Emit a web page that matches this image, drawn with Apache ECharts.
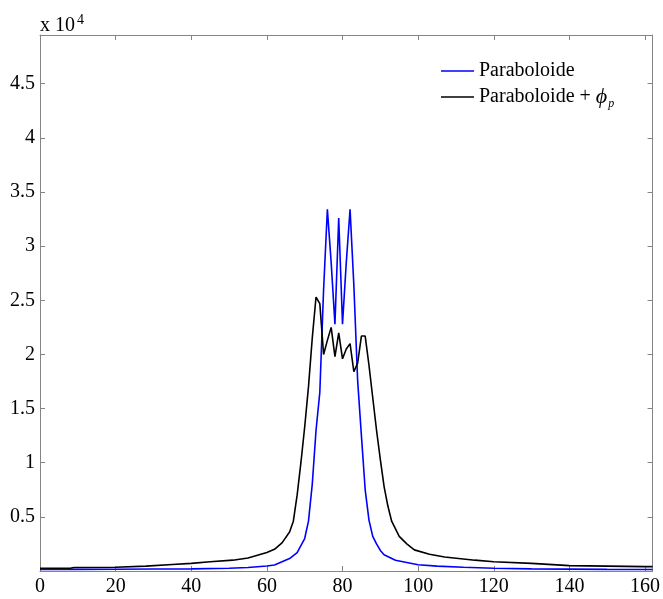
<!DOCTYPE html>
<html>
<head>
<meta charset="utf-8">
<script src="https://cdn.jsdelivr.net/npm/echarts@6/dist/echarts.min.js"></script>
<style>html,body{margin:0;padding:0;background:#fff}#c{width:663px;height:599px}</style>
</head>
<body>
<div id="c"></div>
<script>
var xTicks = [0, 20, 40, 60, 80, 100, 120, 140, 160];
var yTickLabels = ['0.5', '1', '1.5', '2', '2.5', '3', '3.5', '4', '4.5'];

var blueX = [0, 10, 20, 30, 40, 50, 55, 60, 62, 64, 66, 68, 70, 71, 72, 73, 74, 75, 76, 77, 78, 79, 80, 81, 82, 83, 84, 85, 86, 87, 88, 89, 90, 91, 94, 100, 105, 112, 120, 130, 140, 150, 160, 162];
var blueY = [150, 150, 160, 180, 200, 250, 320, 460, 560, 850, 1150, 1700, 3000, 4600, 8000, 13000, 16500, 26000, 33400, 28500, 22800, 32600, 22800, 28500, 33400, 26400, 17600, 12500, 7500, 4700, 3200, 2500, 1900, 1500, 1000, 580, 450, 340, 250, 200, 170, 150, 140, 140];

var blackX = [0, 8, 9, 20, 28, 35, 40, 45, 51, 55, 60, 62, 64, 66, 67, 68, 69, 70, 71, 72, 73, 74, 75, 76, 77, 78, 79, 80, 81, 82, 83, 84, 85, 86, 87, 88, 89, 90, 91, 92, 93, 95, 97, 99, 103, 107, 115, 120, 130, 140, 150, 160, 162];
var blackY = [250, 250, 330, 350, 450, 600, 700, 850, 1000, 1200, 1700, 2000, 2600, 3600, 4600, 7000, 10000, 13300, 17000, 21500, 25300, 24700, 20000, 21300, 22500, 19800, 22000, 19600, 20500, 21000, 18400, 19200, 21700, 21700, 19000, 16000, 13000, 10300, 7800, 6000, 4600, 3200, 2500, 1950, 1550, 1300, 1000, 860, 700, 500, 450, 400, 400];

function zip(a, b) { return a.map(function (v, i) { return [v, b[i]]; }); }

var serif = 'Liberation Serif';
var frame = '#848484';
var chart = echarts.init(document.getElementById('c'), null, { renderer: 'canvas' });

var yFmt = function (v) {
  var k = Math.round(v / 5000) - 1;
  if (Math.abs(v - (k + 1) * 5000) > 1e-6) return '';
  return yTickLabels[k] || '';
};
var xFmt = function (v) { return xTicks.indexOf(v) >= 0 ? String(v) : ''; };

function frameAxis(extra) {
  var base = {
    axisLine: { show: true, onZero: false, lineStyle: { color: frame, width: 1 } },
    axisTick: { show: true, inside: true, length: 5, lineStyle: { color: frame } },
    splitLine: { show: false }
  };
  for (var k in extra) base[k] = extra[k];
  return base;
}

chart.setOption({
  animation: false,
  grid: { left: 40, right: 8, top: 35, bottom: 28, containLabel: false },
  legend: {
    orient: 'vertical',
    left: 436,
    top: 56,
    icon: 'rect',
    itemWidth: 33,
    itemHeight: 1.6,
    itemGap: 5,
    textStyle: {
      fontFamily: serif, fontSize: 20, color: '#000',
      rich: {
        phi: { fontFamily: serif, fontSize: 22, fontStyle: 'italic', color: '#000' },
        sub: { fontFamily: serif, fontSize: 12, fontStyle: 'italic', color: '#000', verticalAlign: 'bottom', padding: [14, 0, 0, 1] }
      }
    },
    formatter: function (name) {
      if (name === 'Paraboloide + ϕp') return 'Paraboloide + {phi|ϕ}{sub|p}';
      return name;
    },
    data: ['Paraboloide', 'Paraboloide + ϕp']
  },
  graphic: [{
    type: 'text',
    left: 40,
    top: 13,
    style: {
      text: 'x 10{sup|4}',
      fontFamily: serif,
      fontSize: 20,
      fill: '#000',
      rich: { sup: { fontFamily: serif, fontSize: 14, fill: '#000', verticalAlign: 'top', padding: [0, 0, 12, 2] } }
    }
  }],
  xAxis: [frameAxis({
    type: 'value', min: 0, max: 162, interval: 20,
    axisLabel: { formatter: xFmt, showMaxLabel: false, fontFamily: serif, fontSize: 20, color: '#000', margin: 6 }
  }), frameAxis({
    type: 'value', position: 'top', min: 0, max: 162, interval: 20,
    axisLabel: { show: false }
  })],
  yAxis: [frameAxis({
    type: 'value', min: 0, max: 49500, interval: 5000,
    axisLabel: { formatter: yFmt, showMaxLabel: false, fontFamily: serif, fontSize: 20, color: '#000', margin: 5 }
  }), frameAxis({
    type: 'value', position: 'right', min: 0, max: 49500, interval: 5000,
    axisLabel: { show: false }
  })],
  series: [{
    name: 'Paraboloide', type: 'line', symbol: 'none',
    lineStyle: { color: '#0000ff', width: 1.6 }, itemStyle: { color: '#0000ff' },
    data: zip(blueX, blueY)
  }, {
    name: 'Paraboloide + ϕp', type: 'line', symbol: 'none',
    lineStyle: { color: '#000000', width: 1.6 }, itemStyle: { color: '#000000' },
    data: zip(blackX, blackY)
  }]
});
</script>
</body>
</html>
